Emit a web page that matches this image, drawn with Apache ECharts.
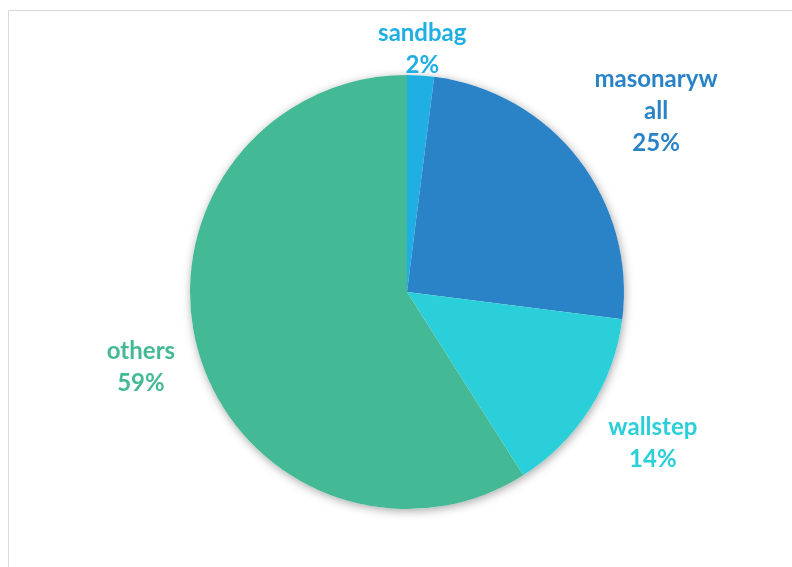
<!DOCTYPE html>
<html>
<head>
<meta charset="utf-8">
<script src="https://cdn.jsdelivr.net/npm/echarts@6/dist/echarts.min.js"></script>
<style>
  html, body { margin: 0; padding: 0; background: #fff; }
  #chart { width: 792px; height: 567px; }
</style>
</head>
<body>
<div id="chart"></div>
<script>
// data
const categories = ["sandbag", "masonarywall", "wallstep", "others"];
const shares = [2, 25, 14, 59];
const colors = ["#1fafe3", "#2a83c7", "#2acfd9", "#44b995"];

const cx = 407, cy = 292, R = 217;
const total = shares.reduce((a, b) => a + b, 0);

// mid angle of each slice (clockwise from top), used for label placement
const midAngles = [];
let acc = 0;
shares.forEach((v) => {
  midAngles.push(((acc + v / 2) / total) * Math.PI * 2);
  acc += v;
});

const chart = echarts.init(document.getElementById("chart"));
chart.setOption({
  animation: false,
  graphic: [
    {
      type: "rect",
      shape: { x: 8.5, y: 10.5, width: 800, height: 600 },
      style: { fill: "none", stroke: "#d9d9d9", lineWidth: 1 },
      z: -10,
    },
  ],
  series: [
    {
      // shadow underneath the pie
      type: "pie",
      silent: true,
      center: [cx, cy],
      radius: R,
      label: { show: false },
      labelLine: { show: false },
      itemStyle: {
        color: "#fff",
        shadowBlur: 10,
        shadowColor: "rgba(0,0,0,0.35)",
        shadowOffsetX: 1,
        shadowOffsetY: 2,
      },
      data: [{ value: 1, name: "" }],
      z: 1,
    },
    {
      type: "pie",
      center: [cx, cy],
      radius: R,
      startAngle: 90,
      clockwise: true,
      z: 2,
      itemStyle: { borderWidth: 0 },
      labelLine: { show: false },
      label: {
        show: true,
        position: "outside",
        fontFamily: "Lato",
        fontWeight: "bold",
        fontSize: 24,
        lineHeight: 32,
        align: "center",
        formatter: (p) => {
          const n = p.name.length > 10 ? p.name.slice(0, 9) + "\n" + p.name.slice(9) : p.name;
          return n + "\n" + p.value + "%";
        },
      },
      labelLayout: (params) => {
        const a = midAngles[params.dataIndex];
        const w = params.labelRect.width, h = params.labelRect.height;
        const s = Math.sin(a), c = Math.cos(a);
        const d = R + 10 + Math.abs(c) * h / 2 + Math.abs(s) * w / 2;
        let x = cx + d * s;
        let y = cy - d * c;
        // side labels sit a little further out horizontally
        if (Math.abs(s) > 0.5) x += 8 * Math.sign(s);
        if (Math.abs(s) > 0.5 && c > 0.5) y += 6;
        // keep label inside the chart area (top edge)
        const minY = 17 + h / 2;
        if (y < minY) {
          y = minY;
          x = cx + (cy - y) * Math.tan(a);
        }
        return { x, y, align: "center", verticalAlign: "middle" };
      },
      data: categories.map((name, i) => ({
        name,
        value: shares[i],
        itemStyle: { color: colors[i] },
        label: { color: colors[i] },
      })),
    },
  ],
});
</script>
</body>
</html>
